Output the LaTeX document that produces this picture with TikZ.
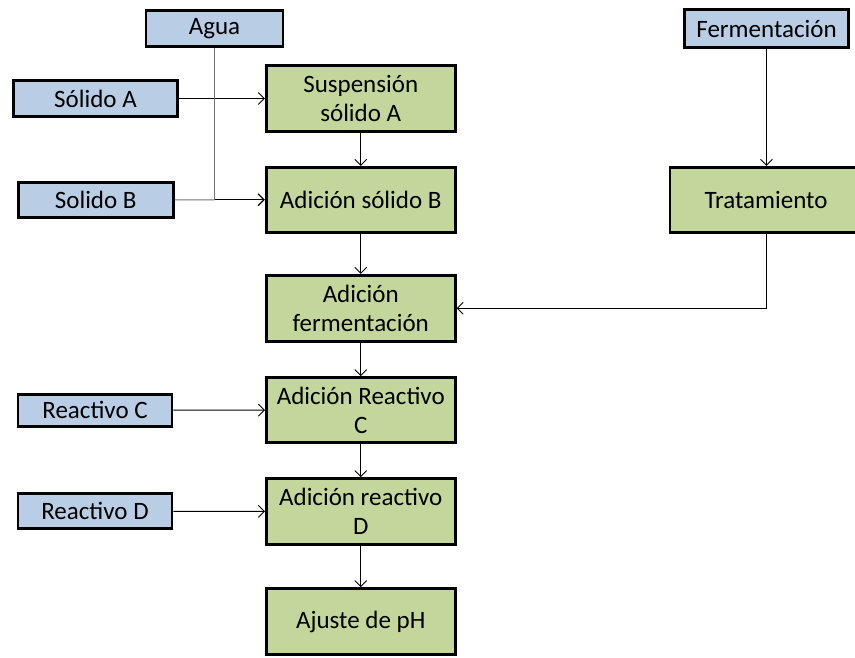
\documentclass[tikz,border=0pt]{standalone}
\usepackage{fontspec}
\setmainfont{Carlito}
\usetikzlibrary{arrows.meta}
\definecolor{bluefill}{HTML}{B9CDE5}
\definecolor{greenfill}{HTML}{C3D69B}
\tikzset{
  basebox/.style={draw=black, line width=2.6pt, inner sep=1pt, align=center,
    font=\fontsize{25pt}{29pt}\selectfont},
  inbox/.style={basebox, fill=bluefill},
  stepbox/.style={basebox, fill=greenfill, minimum width=189pt, minimum height=66pt},
  arr/.style={-{Straight Barb[length=6pt,width=12pt]}, line width=0.9pt, black},
  conn/.style={line width=0.9pt, black},
}
\begin{document}
\begin{tikzpicture}[x=1pt,y=-1pt]
\useasboundingbox (0,0) rectangle (855,657);
\clip (0,0) rectangle (855,657);
\fill[white] (0,0) rectangle (855,657);

\node[inbox, minimum width=137pt, minimum height=36pt] (agua) at (214.5,28.5) {Agua};
\node[inbox, minimum width=164pt, minimum height=38pt] (ferm) at (766.5,28.5) {Fermentación};
\node[inbox, minimum width=164pt, minimum height=36pt] (sola) at (95.5,98.5) {Sólido A};
\node[inbox, minimum width=155pt, minimum height=35pt] (solb) at (95.75,200) {Solido B};
\node[inbox, minimum width=154pt, minimum height=32pt] (reac) at (95,410.25) {Reactivo C};
\node[inbox, minimum width=154pt, minimum height=35pt] (read) at (95,511.25) {Reactivo D};

\node[stepbox] (susp) at (360.75,98.5) {Suspensión\\sólido A};
\node[stepbox, minimum height=65pt] (adsb) at (360.75,199.75) {Adición sólido B};
\node[stepbox, minimum width=192pt, minimum height=65pt] (trat) at (766,199.75) {Tratamiento};
\node[stepbox] (adf) at (360.75,308.25) {Adición\\fermentación};
\node[stepbox, minimum height=65pt] (adrc) at (360.75,410) {Adición Reactivo\\C};
\node[stepbox] (adrd) at (360.75,511.5) {Adición reactivo\\D};
\node[stepbox] (ajus) at (360.75,621.5) {Ajuste de pH};

% connectors
\draw[arr] (sola) -- (susp);
\coordinate (j) at (agua.south |- adsb.west);
\draw[line width=1pt, black!55] (agua) -- (j);
\draw[line width=1pt, black!55] (solb) -- (j);
\draw[arr, line width=1.3pt] (j) -- (adsb);
\draw[arr] (susp) -- (adsb);
\draw[arr] (adsb) -- (adf);
\draw[arr] (ferm) -- (ferm |- trat.north);
\coordinate (t) at (ferm.south |- trat.south);
\draw[arr] (t) |- (adf.east);
\draw[arr] (adf) -- (adrc);
\draw[arr] (reac) -- (adrc);
\draw[arr] (adrc) -- (adrd);
\draw[arr] (read) -- (adrd);
\draw[arr] (adrd) -- (ajus);
\end{tikzpicture}
\end{document}
